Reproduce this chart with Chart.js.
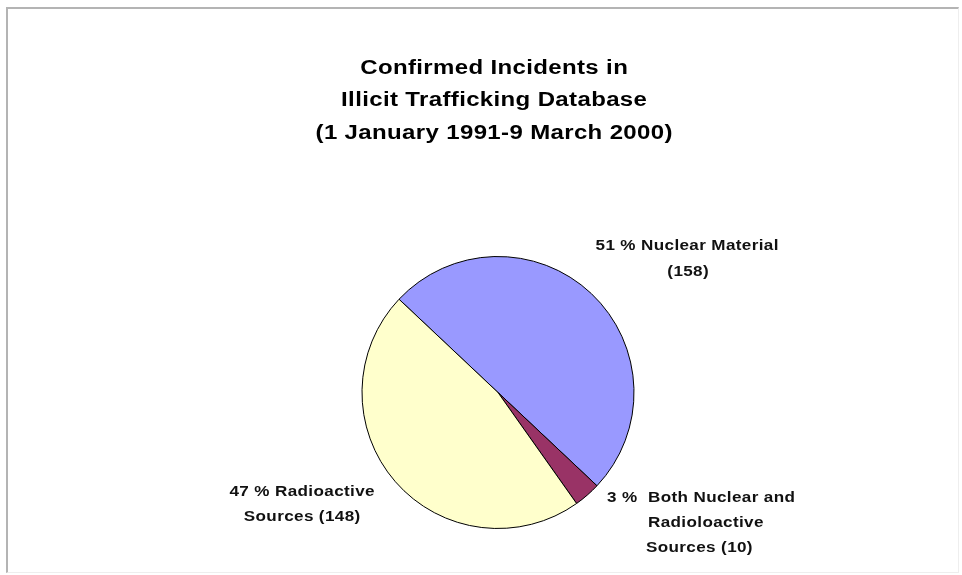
<!DOCTYPE html>
<html>
<head>
<meta charset="utf-8">
<script src="https://cdn.jsdelivr.net/npm/chart.js@4.4.0/dist/chart.umd.min.js"></script>
<style>
  html, body { margin: 0; padding: 0; background: #fff; }
  #wrap { position: relative; width: 962px; height: 575px; }
  #frame { position: absolute; left: 6px; top: 7px; width: 950px; height: 563px;
           border-left: 2px solid #b4b4b4; border-top: 2px solid #b4b4b4;
           border-right: 1px solid #eeeeee; border-bottom: 1px solid #eeeeee; pointer-events: none; }
  canvas { position: absolute; left: 0; top: 0; }
</style>
</head>
<body>
<div id="wrap">
  <canvas id="c" width="962" height="575"></canvas>
  <div id="frame"></div>
</div>
<script>
const titleLines = ["Confirmed Incidents in", "Illicit Trafficking Database", "(1 January 1991-9 March 2000)"];
const categories = ["Nuclear Material", "Both Nuclear and Radioloactive Sources", "Radioactive Sources"];
const counts = [158, 10, 148];
const percentLabels = ["51 %", "3 %", "47 %"];
const colors = ["#9999FF", "#993366", "#FFFFCC"];

const FONT = "'Liberation Sans', Arial, sans-serif";

function wideText(ctx, text, x, y, sx, spacing, align) {
  ctx.save();
  ctx.letterSpacing = spacing + 'px';
  const w = ctx.measureText(text).width - spacing;
  ctx.translate(x, y);
  ctx.scale(sx, 1);
  ctx.textAlign = 'left';
  ctx.fillText(text, align === 'center' ? -w / 2 : 0, 0);
  ctx.restore();
}

const textPlugin = {
  id: 'texts',
  afterDatasetsDraw(chart) {
    const ctx = chart.ctx;
    ctx.save();
    ctx.textBaseline = 'middle';
    // title
    ctx.fillStyle = '#000';
    ctx.font = "bold 20px " + FONT;
    const titleY = [68, 100.5, 133];
    titleLines.forEach((t, i) => wideText(ctx, t, 494, titleY[i], 1.2, 0.3, 'center'));
    // slice labels
    ctx.fillStyle = '#111';
    ctx.font = "bold 14px " + FONT;
    const s = 1.22, sp = 0.3;
    wideText(ctx, percentLabels[0] + " " + categories[0], 687, 246, s, sp, 'center');
    wideText(ctx, "(" + counts[0] + ")", 688, 272, s, sp, 'center');
    wideText(ctx, percentLabels[2] + " Radioactive", 302, 492, s, sp, 'center');
    wideText(ctx, "Sources (" + counts[2] + ")", 302, 517, s, sp, 'center');
    wideText(ctx, percentLabels[1], 607, 498, s, sp, 'left');
    wideText(ctx, "Both Nuclear and", 648, 498, s, sp, 'left');
    wideText(ctx, "Radioloactive", 648, 523, s, sp, 'left');
    wideText(ctx, "Sources (" + counts[1] + ")", 646, 548, s, sp, 'left');
    ctx.restore();
  }
};

new Chart(document.getElementById('c'), {
  type: 'pie',
  data: {
    labels: categories,
    datasets: [{
      data: counts,
      backgroundColor: colors,
      borderColor: '#000',
      borderWidth: 1,
      borderAlign: 'center'
    }]
  },
  options: {
    responsive: false,
    animation: false,
    rotation: -46.7,
    radius: 136,
    layout: { padding: { left: 362, right: 328, top: 255, bottom: 45 } },
    plugins: {
      legend: { display: false },
      tooltip: { enabled: false },
      title: { display: false }
    }
  },
  plugins: [textPlugin]
});
</script>
</body>
</html>
